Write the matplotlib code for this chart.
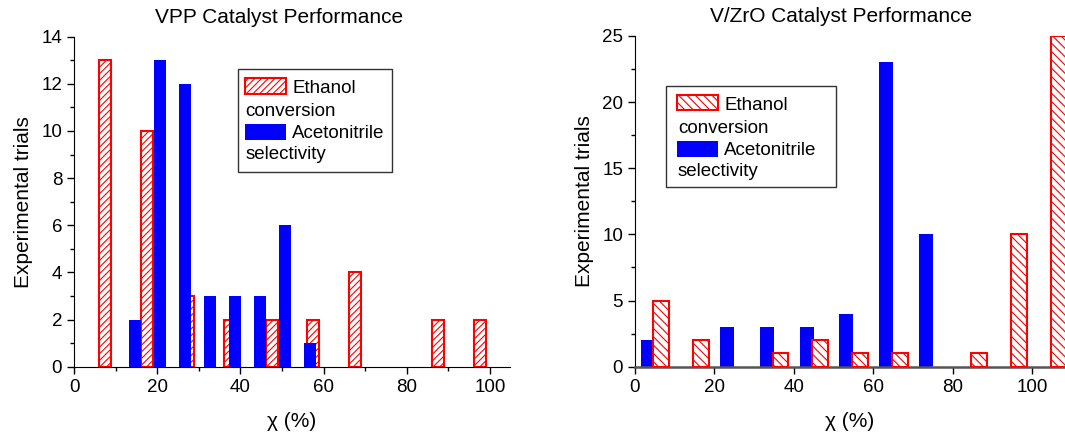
import matplotlib
matplotlib.use('Agg')
import matplotlib.pyplot as plt
from matplotlib.patches import Rectangle

""" data read off the figure """

# VPP catalyst
vpp_eth_x = [7.5, 17.5, 27.5, 37.5, 47.5, 57.5, 67.5, 77.5, 87.5, 97.5]
vpp_eth_n = [13, 10, 3, 2, 2, 2, 4, 0, 2, 2]
vpp_ace_x = [14.7, 20.7, 26.7, 32.7, 38.7, 44.7, 50.7, 56.7]
vpp_ace_n = [2, 13, 12, 3, 3, 3, 6, 1]

# V/ZrO catalyst
vzr_eth_x = [6.6, 16.6, 26.6, 36.6, 46.6, 56.6, 66.6, 76.6, 86.6, 96.6, 106.6]
vzr_eth_n = [5, 2, 0, 1, 2, 1, 1, 0, 1, 10, 25]
vzr_ace_x = [3.2, 13.2, 23.2, 33.2, 43.2, 53.2, 63.2, 73.2]
vzr_ace_n = [2, 0, 3, 3, 3, 4, 23, 10]

titles = ['VPP Catalyst Performance', 'V/ZrO Catalyst Performance']
lab_eth = ['Ethanol', 'conversion']
lab_ace = ['Acetonitrile', 'selectivity']

plt.rcParams['font.family'] = ['Liberation Sans', 'DejaVu Sans']
plt.rcParams['hatch.linewidth'] = 0.8
plt.rcParams['hatch.color'] = 'red'

W, H = 1065, 434
fig = plt.figure(figsize=(W / 100, H / 100), dpi=100)


def px_axes(left, top, right, bottom):
    return fig.add_axes([left / W, 1 - bottom / H, (right - left) / W, (bottom - top) / H])


def nonzero(x, n):
    # empty bins are not drawn (otherwise a red edge shows on the axis)
    pairs = [(a, b) for a, b in zip(x, n) if b > 0]
    return [p[0] for p in pairs], [p[1] for p in pairs]


def fake_legend(x0, y0, w, h, hatch, dx):
    # legend drawn by hand: second line of each label starts under the handle
    tr = fig.dpi_scale_trans
    def r(x, y, ww, hh, **kw):
        fig.patches.append(Rectangle(((x0 + x) / 100, (H - y0 - y - hh) / 100), ww / 100, hh / 100,
                                     transform=tr, **kw))
    def t(x, y, s):
        fig.text((x0 + x) / 100, (H - y0 - y) / 100, s, transform=tr, fontsize=13.5,
                 va='baseline', ha='left', zorder=8)
    r(0, 0, w, h, facecolor='white', edgecolor='#333333', lw=1.0, zorder=5)
    r(dx, 9, 40.5, 15.5, facecolor='white', edgecolor='red', hatch=hatch, lw=1.5, zorder=6)
    t(dx + 47, 24, lab_eth[0])
    t(dx + 0.5, 47, lab_eth[1])
    r(dx, 55, 40.5, 16, facecolor='blue', edgecolor='none', zorder=6)
    t(dx + 47, 69.5, lab_ace[0])
    t(dx + 0.5, 90, lab_ace[1])


def style(ax, ylim, ymajor, yminor, xminor):
    ax.spines['top'].set_visible(False)
    ax.spines['right'].set_visible(False)
    ax.set_ylim(*ylim)
    ax.set_yticks(ymajor)
    ax.set_yticks(yminor, minor=True)
    ax.set_xticks([0, 20, 40, 60, 80, 100])
    ax.set_xticks(xminor, minor=True)
    ax.tick_params(which='major', direction='out', length=5, width=1, labelsize=13.5)
    ax.tick_params(which='minor', direction='out', length=3, width=1)
    ax.set_ylabel('Experimental trials', fontsize=15, labelpad=6)
    ax.set_xlabel('\u03c7 (%)', fontsize=15, labelpad=12)


# left panel
ax1 = px_axes(74, 36.7, 510, 366.7)
ax1.bar(*nonzero(vpp_eth_x, vpp_eth_n), width=2.9, facecolor='white', edgecolor='red',
        hatch='/////', lw=1.5, zorder=2)
ax1.bar(*nonzero(vpp_ace_x, vpp_ace_n), width=2.9, color='blue', zorder=3)
ax1.set_xlim(3, 104.8)
style(ax1, (0, 14), range(0, 15, 2), range(1, 14, 2), range(10, 101, 20))
ax1.set_title(titles[0], fontsize=15, x=0.47, pad=10)
fake_legend(238.3, 69, 153.4, 102.7, '/////', 6.7)

# right panel
ax2 = px_axes(635, 36, 1065, 366.7)
ax2.bar(*nonzero(vzr_ace_x, vzr_ace_n), width=3.5, color='blue', zorder=2)
ax2.bar(*nonzero(vzr_eth_x, vzr_eth_n), width=4.0, facecolor='white', edgecolor='red',
        hatch='\\\\\\\\', lw=1.5, zorder=3)
ax2.set_xlim(0, 108.2)
style(ax2, (0, 25), range(0, 26, 5), [2.5, 7.5, 12.5, 17.5, 22.5], [])
ax2.spines['bottom'].set_color('#555555')
ax2.spines['bottom'].set_linewidth(1.8)
ax2.set_title(titles[1], fontsize=15, x=0.48, pad=10)
fake_legend(665.7, 85.7, 170, 101.6, '\\\\\\\\', 11.6)

fig.savefig('out.png', dpi=100)
